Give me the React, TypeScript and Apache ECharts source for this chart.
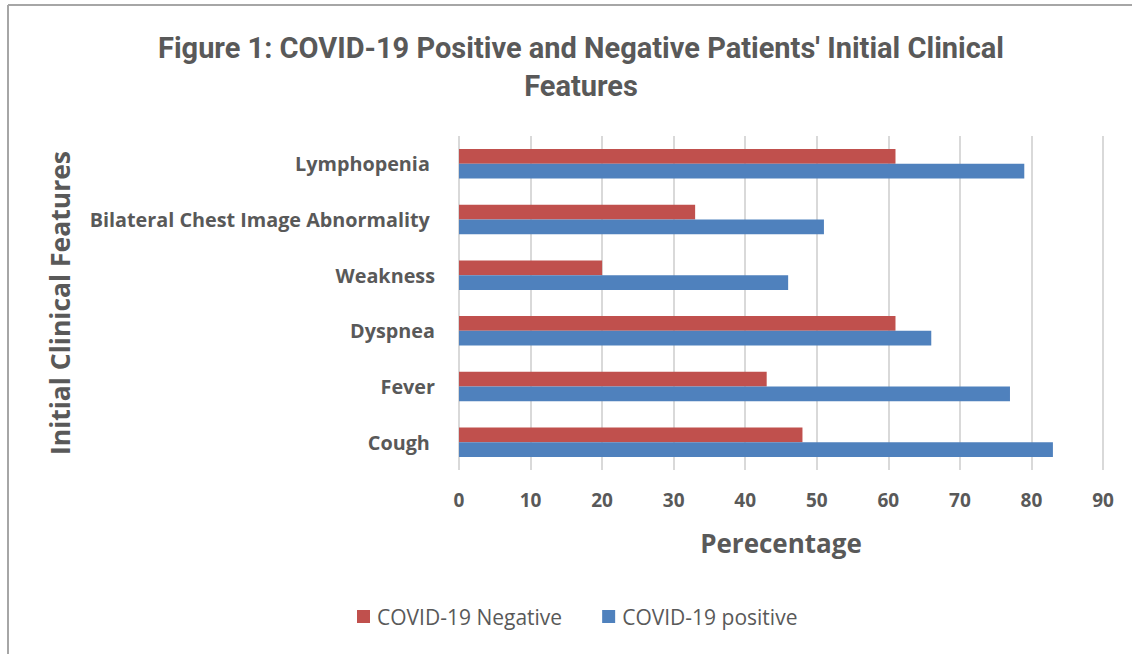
import React, { useEffect, useRef } from "react";
import * as echarts from "echarts";

const categories = ["Cough ", "Fever", "Dyspnea", "Weakness", "Bilateral Chest Image Abnormality ", "Lymphopenia "];
const negativeValues = [48, 43, 61, 20, 33, 61];
const positiveValues = [83, 77, 66, 46, 51, 79];
const xTicks = [0, 10, 20, 30, 40, 50, 60, 70, 80, 90];

const TEXT = "#595959";

export default function App() {
  const ref = useRef<HTMLDivElement>(null);
  useEffect(() => {
    if (!ref.current) return;
    const chart = echarts.init(ref.current, null, { renderer: "svg" });
    chart.setOption({
      animation: false,
      backgroundColor: "#ffffff",
      title: {
        text: "Figure 1: COVID-19 Positive and Negative Patients' Initial Clinical\nFeatures",
        left: 576,
        textAlign: "center",
        top: 24,
        textStyle: {
          fontFamily: "Roboto",
          fontWeight: "bold",
          fontSize: 29,
          color: TEXT,
          lineHeight: 38,
        },
      },
      legend: {
        bottom: 22,
        left: 352,
        itemWidth: 13,
        itemHeight: 13,
        itemGap: 40,
        icon: "rect",
        textStyle: { fontFamily: "Open Sans", fontSize: 21, color: TEXT, padding: [0, 0, 0, 2] },
        data: ["COVID-19 Negative", "COVID-19 positive"],
      },
      grid: { left: 459, right: 29, top: 136, bottom: 184, containLabel: false },
      xAxis: {
        type: "value",
        min: xTicks[0],
        max: xTicks[xTicks.length - 1],
        interval: 10,
        name: "Perecentage",
        nameLocation: "middle",
        nameGap: 60,
        nameTextStyle: { fontFamily: "Open Sans", fontWeight: "bold", fontSize: 26, color: TEXT },
        axisLine: { show: false },
        axisTick: { show: false },
        splitLine: { show: true, lineStyle: { color: "#D9D9D9", width: 2 } },
        axisLabel: { margin: 20, fontFamily: "Open Sans", fontWeight: "bold", fontSize: 19, color: TEXT },
      },
      yAxis: {
        type: "category",
        data: categories,
        name: "Initial Clinical Features",
        nameLocation: "middle",
        nameGap: 386,
        nameRotate: 90,
        nameTextStyle: { fontFamily: "Open Sans", fontWeight: "bold", fontSize: 26.5, color: TEXT },
        axisLine: { show: false },
        axisTick: { show: false },
        axisLabel: { margin: 24, fontFamily: "Open Sans", fontWeight: "bold", fontSize: 19.8, color: TEXT },
      },
      series: [
        {
          name: "COVID-19 Negative",
          type: "bar",
          data: negativeValues,
          itemStyle: { color: "#C0504D" },
          barGap: "0%",
          barCategoryGap: "47%",
        },
        {
          name: "COVID-19 positive",
          type: "bar",
          data: positiveValues,
          itemStyle: { color: "#4F81BD" },
          barGap: "0%",
          barCategoryGap: "47%",
        },
      ],
      graphic: [
        { type: "line", shape: { x1: 8, y1: 5, x2: 1132, y2: 5 }, style: { stroke: "#A6A6A6", lineWidth: 2 } },
        { type: "line", shape: { x1: 8, y1: 5, x2: 8, y2: 654 }, style: { stroke: "#A6A6A6", lineWidth: 2 } },
      ],
    });
    return () => chart.dispose();
  }, []);
  return (
    <div style={{ position: "fixed", left: 0, top: 0, width: 1132, height: 654 }}>
      <div ref={ref} style={{ width: 1132, height: 654 }} />
    </div>
  );
}
